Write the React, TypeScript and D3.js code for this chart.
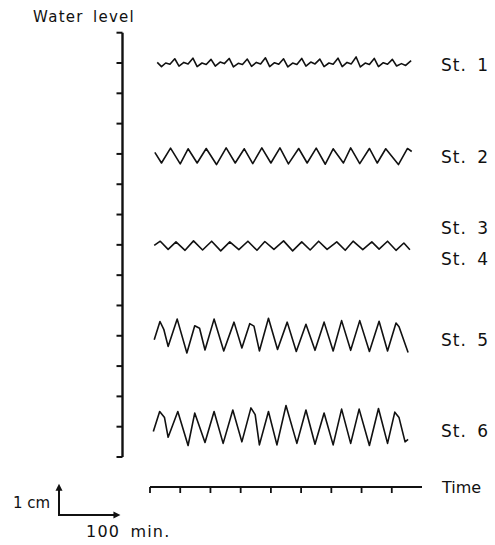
import React from 'react';
import * as d3 from 'd3';

// time in minutes, level in cm relative to each record's zero line
const st1Time = [12, 19, 26, 33, 41, 48, 56, 63, 71, 78, 86, 93, 101, 108, 116, 123, 131, 138, 146, 153, 161, 168, 176, 183, 191, 198, 206, 213, 221, 228, 236, 243, 251, 258, 266, 273, 281, 288, 296, 303, 311, 318, 326, 333, 341, 348, 356, 363, 371, 378, 386, 393, 401, 408, 416, 423, 432];
const st1Level = [0.02, -0.12, 0.0, -0.04, 0.14, -0.1, 0.02, -0.03, 0.16, -0.12, 0.0, -0.05, 0.12, -0.1, 0.03, -0.02, 0.15, -0.13, -0.01, -0.05, 0.13, -0.11, 0.02, -0.03, 0.17, -0.12, 0.01, -0.04, 0.14, -0.13, 0.0, -0.05, 0.15, -0.1, 0.03, -0.03, 0.13, -0.12, 0.0, -0.04, 0.16, -0.12, 0.02, -0.03, 0.2, -0.13, 0.0, -0.05, 0.15, -0.12, 0.01, -0.04, 0.12, -0.1, -0.02, -0.08, 0.08];

const st2Time = [8, 19, 34, 50, 63, 78, 93, 110, 126, 141, 156, 170, 185, 200, 215, 229, 246, 260, 275, 290, 303, 320, 332, 347, 363, 376, 390, 411, 426, 433];
const st2Level = [0.05, -0.3, 0.19, -0.33, 0.17, -0.3, 0.18, -0.35, 0.2, -0.3, 0.17, -0.32, 0.2, -0.3, 0.2, -0.33, 0.18, -0.3, 0.19, -0.34, 0.17, -0.3, 0.2, -0.32, 0.18, -0.3, 0.17, -0.35, 0.18, 0.08];

const st34Time = [7, 17, 30, 43, 58, 72, 87, 102, 117, 132, 147, 162, 177, 190, 205, 221, 236, 251, 265, 279, 293, 309, 323, 336, 352, 367, 379, 393, 407, 420, 430];
const st34Level = [-0.02, 0.12, -0.15, 0.1, -0.18, 0.13, -0.17, 0.12, -0.2, 0.1, -0.16, 0.12, -0.18, 0.11, -0.15, 0.13, -0.2, 0.1, -0.17, 0.12, -0.15, 0.1, -0.18, 0.12, -0.16, 0.1, -0.14, 0.12, -0.18, 0.06, -0.16];

const st5Time = [7, 16.5, 23, 30, 45, 61, 74, 82, 91, 106, 122, 139, 152, 165, 172, 181, 196, 211, 227, 242, 258, 273, 288, 303, 317, 332, 347, 363, 379, 393, 407, 412, 427];
const st5Level = [-0.13, 0.47, 0.2, -0.35, 0.55, -0.57, 0.33, 0.25, -0.47, 0.55, -0.5, 0.45, -0.4, 0.4, 0.32, -0.5, 0.58, -0.45, 0.45, -0.52, 0.38, -0.48, 0.45, -0.5, 0.5, -0.48, 0.5, -0.52, 0.48, -0.5, 0.42, 0.3, -0.55];

const st6Time = [5.5, 16, 24, 30, 46, 63, 74, 91, 106, 121, 137, 152, 167, 174, 181, 196, 210, 225, 243, 258, 273, 288, 303, 317, 332, 346, 363, 378, 393, 405, 412, 422, 427];
const st6Level = [-0.16, 0.5, 0.3, -0.35, 0.5, -0.62, 0.45, -0.52, 0.5, -0.55, 0.55, -0.5, 0.62, 0.4, -0.6, 0.5, -0.6, 0.7, -0.55, 0.55, -0.58, 0.45, -0.6, 0.58, -0.55, 0.58, -0.62, 0.6, -0.55, 0.48, 0.3, -0.5, -0.42];

// zero line of each record, in cm on the level axis
const records = [
  { time: st1Time, level: st1Level, base: 13 },
  { time: st2Time, level: st2Level, base: 10 },
  { time: st34Time, level: st34Level, base: 7 },
  { time: st5Time, level: st5Level, base: 4 },
  { time: st6Time, level: st6Level, base: 1 },
];

const stationNames = ['St. 1', 'St. 2', 'St. 3', 'St. 4', 'St. 5', 'St. 6'];
const stationBase = [13, 10, 7, 7, 4, 1];
const labelShift = [8, 9, -11, 20, 10, 10];

const levelTicks = d3.range(0, 15);
const timeTicks = d3.range(0, 401, 50);

const font = '"DejaVu Sans", sans-serif';
const ink = '#111';

const App = () => {
  const levelScale = d3.scaleLinear().domain([0, 14]).range([457, 32.7]);
  const timeScale = d3.scaleLinear().domain([0, 450]).range([150, 422]);
  const axisX = 122.5;
  const timeY = 487;

  const line = d3.line<[number, number]>()
    .x(d => timeScale(d[0]))
    .y(d => d[1]);

  // scale bar: 1 cm and 100 min
  const barX = 59, barY = 515;
  const barTop = barY - (levelScale(0) - levelScale(1));
  const barRight = barX + (timeScale(100) - timeScale(0));

  return (
    <svg width={495} height={545} style={{ position: 'absolute', left: 0, top: 0, background: '#fff' }}>
      <text x={33} y={22} fontFamily={font} fontSize={15} letterSpacing={1.3} wordSpacing={3} fill={ink}>Water level</text>

      {/* level axis */}
      <line x1={axisX} x2={axisX} y1={levelScale(14)} y2={levelScale(0)} stroke={ink} strokeWidth={2.4} />
      {levelTicks.map(t => (
        <line key={t} x1={axisX - 6} x2={axisX} y1={levelScale(t)} y2={levelScale(t)} stroke={ink} strokeWidth={2} />
      ))}

      {/* records */}
      {records.map((r, i) => (
        <path key={i}
          d={line(r.time.map((t, j) => [t, levelScale(r.base + r.level[j])] as [number, number])) || ''}
          fill="none" stroke={ink} strokeWidth={1.6} strokeLinejoin="round" />
      ))}

      {stationNames.map((s, i) => (
        <text key={s} x={441} y={levelScale(stationBase[i]) + labelShift[i]} fontFamily={font} fontSize={17}
          letterSpacing={1} wordSpacing={4} fill={ink}>{s}</text>
      ))}

      {/* time axis */}
      <line x1={timeScale(0)} x2={timeScale(450)} y1={timeY} y2={timeY} stroke={ink} strokeWidth={2} />
      {timeTicks.map(t => (
        <line key={t} x1={timeScale(t)} x2={timeScale(t)} y1={timeY} y2={timeY + 6} stroke={ink} strokeWidth={1.8} />
      ))}
      <text x={442} y={493} fontFamily={font} fontSize={16} fill={ink}>Time</text>

      {/* scale bar */}
      <path d={`M${barX},${barTop + 4}V${barY}H${barRight - 4}`} fill="none" stroke={ink} strokeWidth={2} />
      <path d={`M${barX - 3.5},${barTop + 6}L${barX},${barTop - 1}L${barX + 3.5},${barTop + 6}Z`} fill={ink} />
      <path d={`M${barRight - 6},${barY - 3.5}L${barRight + 1},${barY}L${barRight - 6},${barY + 3.5}Z`} fill={ink} />
      <text x={13} y={508} fontFamily={font} fontSize={15} fill={ink}>1 cm</text>
      <text x={86} y={537} fontFamily={font} fontSize={16} letterSpacing={1.2} wordSpacing={4} fill={ink}>100 min.</text>
    </svg>
  );
};

export default App;
